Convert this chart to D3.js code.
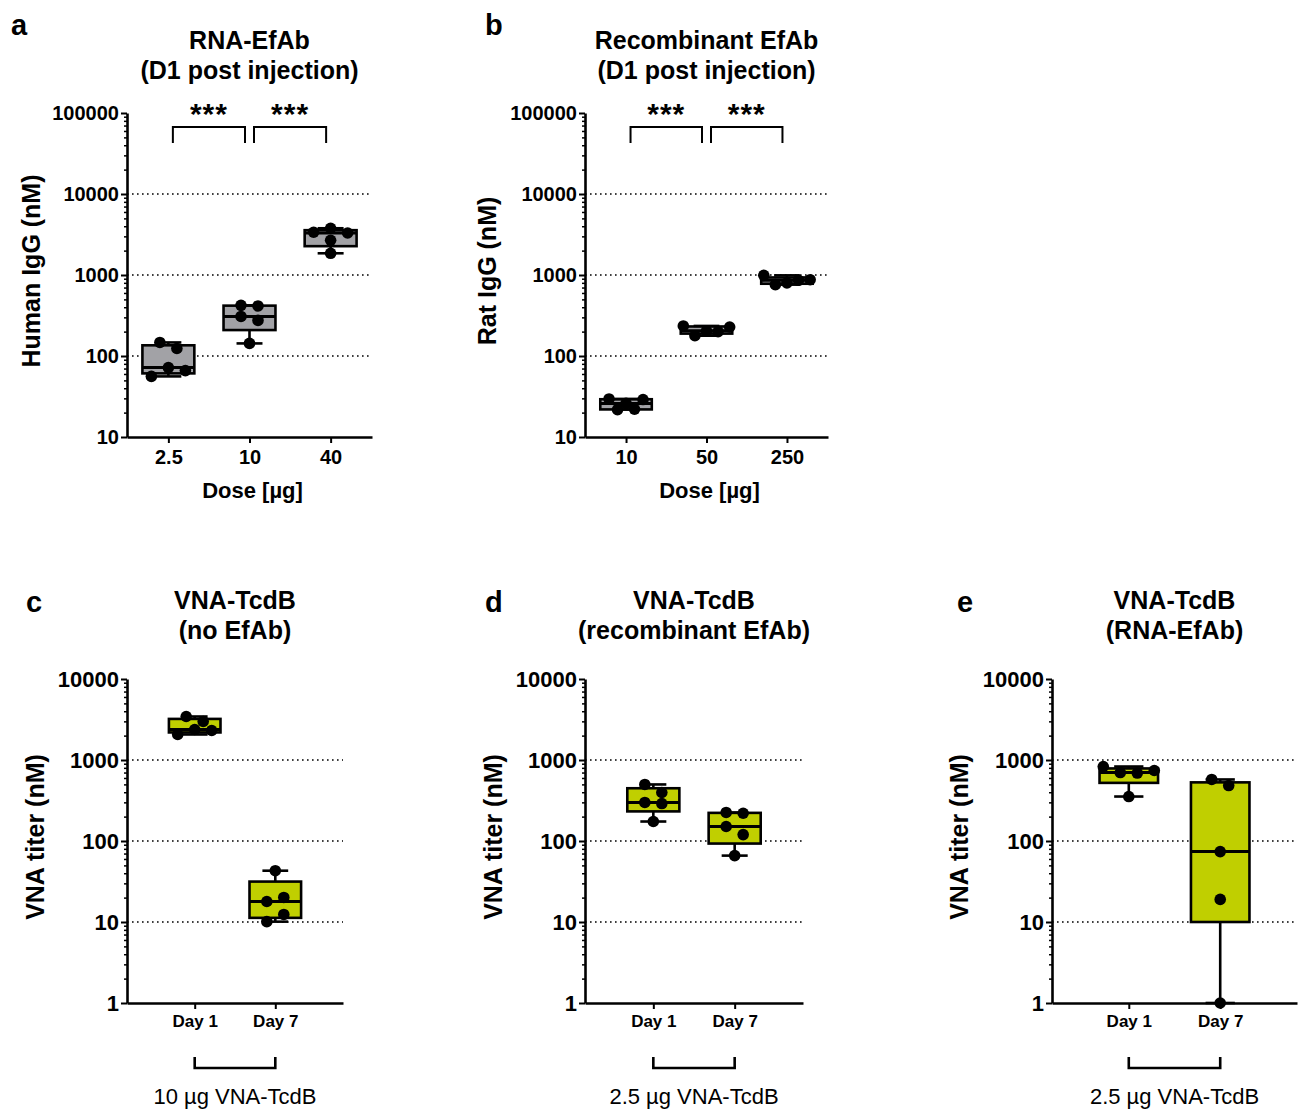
<!DOCTYPE html>
<html>
<head>
<meta charset="utf-8">
<script src="https://cdn.jsdelivr.net/npm/d3@7"></script>
<style>
  body { margin: 0; background: #fff; }
  svg { display: block; font-family: "Liberation Sans", Arial, sans-serif; }
</style>
</head>
<body>
<script>
(function() {
    // panel a: RNA-EfAb, human IgG (nM) per dose
    var rnaDoses = ["2.5", "10", "40"];
    var rnaIgG = [
        [56, 147, 124, 72, 66],
        [422, 415, 308, 275, 143],
        [3373, 3776, 3300, 2685, 1854]
    ];

    // panel b: recombinant EfAb, rat IgG (nM) per dose
    var recDoses = ["10", "50", "250"];
    var recIgG = [
        [29.5, 26, 29, 21.8, 22],
        [235, 178, 205, 200, 228],
        [990, 760, 800, 860, 875]
    ];

    // panels c-e: VNA titer (nM) on day 1 and day 7
    var days = ["Day 1", "Day 7"];
    var vnaNoEfAb = [
        [3444, 2987, 2065, 2381, 2312],
        [43, 17.9, 20.1, 10.1, 12.4]
    ];
    var vnaRecEfAb = [
        [499, 397, 299, 290, 174],
        [225, 220, 151, 120, 66]
    ];
    var vnaRnaEfAb = [
        [831, 700, 690, 742, 354],
        [575, 484, 74, 19, 1]
    ];

    var igGTicks = [10, 100, 1000, 10000, 100000];
    var vnaTicks = [1, 10, 100, 1000, 10000];

    // settings
    var H = 324;
    var gray = "#a2a2a6";
    var lime = "#c0cf00";

    var svg = d3.select("body").append("svg")
        .attr("width", 1304)
        .attr("height", 1109);

    svg.append("rect").attr("width", 1304).attr("height", 1109).attr("fill", "#fff");

    panel({
        letter: "a", lx: 11, ly: 35, title: ["RNA-EfAb", "(D1 post injection)"], ty: -64,
        left: 127, top: 113, width: 245, pad: 0.51,
        cats: rnaDoses, data: rnaIgG, ticks: igGTicks, fill: gray, tfs: 20,
        ylabel: "Human IgG (nM)", ylx: 40, xlabel: "Dose [µg]", stars: true
    });
    panel({
        letter: "b", lx: 485, ly: 35, title: ["Recombinant EfAb", "(D1 post injection)"], ty: -64,
        left: 585, top: 113, width: 243, pad: 0.51,
        cats: recDoses, data: recIgG, ticks: igGTicks, fill: gray, tfs: 20,
        ylabel: "Rat IgG (nM)", ylx: 496, xlabel: "Dose [µg]", stars: true
    });
    panel({
        letter: "c", lx: 26, ly: 612, title: ["VNA-TcdB", "(no EfAb)"], ty: -70,
        left: 127, top: 679, width: 216, pad: 0.84,
        cats: days, data: vnaNoEfAb, ticks: vnaTicks, fill: lime, tfs: 22,
        ylabel: "VNA titer (nM)", ylx: 44, note: "10 µg VNA-TcdB"
    });
    panel({
        letter: "d", lx: 485, ly: 612, title: ["VNA-TcdB", "(recombinant EfAb)"], ty: -70,
        left: 585, top: 679, width: 218, pad: 0.84,
        cats: days, data: vnaRecEfAb, ticks: vnaTicks, fill: lime, tfs: 22,
        ylabel: "VNA titer (nM)", ylx: 502, note: "2.5 µg VNA-TcdB"
    });
    panel({
        letter: "e", lx: 957, ly: 612, title: ["VNA-TcdB", "(RNA-EfAb)"], ty: -70,
        left: 1052, top: 679, width: 245, pad: 0.84,
        cats: days, data: vnaRnaEfAb, ticks: vnaTicks, fill: lime, tfs: 22,
        ylabel: "VNA titer (nM)", ylx: 968, note: "2.5 µg VNA-TcdB"
    });

    function panel(o) {
        var g = svg.append("g")
            .attr("transform", "translate(" + o.left + "," + o.top + ")");

        var y = d3.scaleLog()
            .domain([o.ticks[0], o.ticks[o.ticks.length - 1]])
            .range([H, 0]);
        var x = d3.scalePoint()
            .domain(o.cats)
            .range([0, o.width])
            .padding(o.pad);
        var boxW = x.step() * 0.64;
        var cx = o.width / 2;

        // letter + title
        svg.append("text")
            .attr("x", o.lx).attr("y", o.ly)
            .attr("font-size", 29).attr("font-weight", "bold")
            .text(o.letter);
        o.title.forEach(function(t, i) {
            g.append("text")
                .attr("x", cx).attr("y", o.ty + i * 30)
                .attr("text-anchor", "middle")
                .attr("font-size", 25).attr("font-weight", "bold")
                .text(t);
        });

        // dotted grid
        g.selectAll(".grid")
            .data(o.ticks.slice(1, -1))
            .enter().append("line")
            .attr("x1", 0).attr("x2", o.width)
            .attr("y1", y).attr("y2", y)
            .attr("stroke", "#000")
            .attr("stroke-width", 1.6)
            .attr("stroke-dasharray", "1.6 3.4");

        // minor ticks on log axis
        var minor = [];
        o.ticks.slice(0, -1).forEach(function(d) {
            for (var k = 2; k <= 9; k++) minor.push(d * k);
        });
        var minorAxis = g.append("g")
            .call(d3.axisLeft(y).tickValues(minor).tickSize(3).tickSizeOuter(0).tickFormat(""));
        minorAxis.select(".domain").remove();
        minorAxis.selectAll("line").attr("stroke-width", 1.5);

        var yAxis = g.append("g")
            .call(d3.axisLeft(y).tickValues(o.ticks).tickSize(6).tickSizeOuter(0)
                .tickPadding(2).tickFormat(d3.format("d")));
        styleAxis(yAxis, o.tfs);

        var xAxis = g.append("g")
            .attr("transform", "translate(0," + H + ")")
            .call(d3.axisBottom(x).tickSize(6).tickSizeOuter(0).tickPadding(o.note ? 6 : 7));
        styleAxis(xAxis, o.note ? 17 : 20);

        // y label
        svg.append("text")
            .attr("transform", "translate(" + o.ylx + "," + (o.top + H / 2 - 4) + ") rotate(-90)")
            .attr("text-anchor", "middle")
            .attr("font-size", 25).attr("font-weight", "bold")
            .text(o.ylabel);

        if (o.xlabel) {
            g.append("text")
                .attr("x", cx + 3).attr("y", H + 61)
                .attr("text-anchor", "middle")
                .attr("font-size", 22).attr("font-weight", "bold")
                .text(o.xlabel);
        }

        if (o.note) {
            var x0 = x(o.cats[0]), x1 = x(o.cats[1]);
            g.append("path")
                .attr("d", "M" + x0 + "," + (H + 54) + "V" + (H + 65) + "H" + x1 + "V" + (H + 54))
                .attr("fill", "none").attr("stroke", "#000").attr("stroke-width", 2.6);
            g.append("text")
                .attr("x", (x0 + x1) / 2).attr("y", H + 101)
                .attr("text-anchor", "middle")
                .attr("font-size", 22)
                .text(o.note);
        }

        if (o.stars) {
            for (var s = 0; s < o.cats.length - 1; s++) {
                var a = x(o.cats[s]) + 4.5, b = x(o.cats[s + 1]) - 4.5;
                g.append("path")
                    .attr("d", "M" + a + ",30V14H" + b + "V30")
                    .attr("fill", "none").attr("stroke", "#000").attr("stroke-width", 2);
                g.append("text")
                    .attr("x", (a + b) / 2).attr("y", 11)
                    .attr("text-anchor", "middle")
                    .attr("font-size", 30).attr("font-weight", "bold")
                    .attr("letter-spacing", 1)
                    .text("***");
            }
        }

        // boxes
        o.data.forEach(function(vals, i) {
            var c = x(o.cats[i]);
            var st = stats(vals);
            var bg = g.append("g");
            bg.append("line")
                .attr("x1", c).attr("x2", c)
                .attr("y1", y(st.max)).attr("y2", y(st.min))
                .attr("stroke", "#000").attr("stroke-width", 2.6);
            bg.append("rect")
                .attr("x", c - boxW / 2).attr("width", boxW)
                .attr("y", y(st.q3)).attr("height", y(st.q1) - y(st.q3))
                .attr("fill", o.fill).attr("stroke", "#000").attr("stroke-width", 2.6);
            bg.append("line")
                .attr("x1", c - boxW / 2).attr("x2", c + boxW / 2)
                .attr("y1", y(st.med)).attr("y2", y(st.med))
                .attr("stroke", "#000").attr("stroke-width", 3);
            [st.min, st.max].forEach(function(v) {
                bg.append("line")
                    .attr("x1", c - boxW / 4).attr("x2", c + boxW / 4)
                    .attr("y1", y(v)).attr("y2", y(v))
                    .attr("stroke", "#000").attr("stroke-width", 2.6);
            });

            var off = dodge(vals, y, boxW * 0.45);
            bg.selectAll("circle")
                .data(vals)
                .enter().append("circle")
                .attr("cx", function(d, k) { return c + off[k]; })
                .attr("cy", function(d) { return y(d); })
                .attr("r", 5.8)
                .attr("fill", "#000");
        });
    }

    function styleAxis(ax, fs) {
        ax.select(".domain").attr("stroke-width", 2.6);
        ax.selectAll(".tick line").attr("stroke-width", 2);
        ax.selectAll(".tick text")
            .attr("fill", "#000")
            .attr("font-size", fs)
            .attr("font-weight", "bold")
            .attr("font-family", "'Liberation Sans', Arial, sans-serif");
    }

    // quartiles like Prism: (n + 1) * q position
    function stats(vals) {
        var s = vals.slice().sort(d3.ascending);
        function q(p) {
            var pos = p * (s.length + 1) - 1;
            var lo = Math.floor(pos), hi = Math.ceil(pos);
            lo = Math.max(0, lo); hi = Math.min(s.length - 1, hi);
            return s[lo] + (s[hi] - s[lo]) * (pos - Math.floor(pos));
        }
        return { min: s[0], q1: q(0.25), med: q(0.5), q3: q(0.75), max: s[s.length - 1] };
    }

    // spread points that sit at nearly the same height side by side
    function dodge(vals, y, maxHalf) {
        var idx = vals.map(function(d, i) { return i; })
            .sort(function(a, b) { return y(vals[a]) - y(vals[b]); });
        var groups = [], cur = null;
        idx.forEach(function(i) {
            var py = y(vals[i]);
            if (cur && py - cur.y0 < 10) cur.items.push(i);
            else { cur = { y0: py, items: [i] }; groups.push(cur); }
        });
        var off = vals.map(function() { return 0; });
        groups.forEach(function(gr) {
            var items = gr.items.slice().sort(d3.ascending);
            var n = items.length;
            var sp = n > 1 ? Math.min(17, 2 * maxHalf / (n - 1)) : 0;
            items.forEach(function(i, k) { off[i] = (k - (n - 1) / 2) * sp; });
        });
        return off;
    }
})();
</script>
</body>
</html>
